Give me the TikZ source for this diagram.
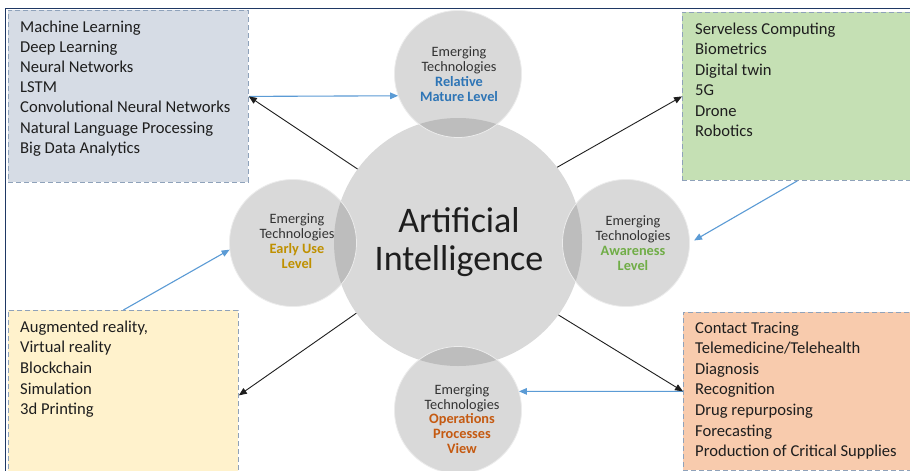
\documentclass[tikz,border=0pt]{standalone}
\usepackage{fontspec}
\setmainfont{Carlito}
\usetikzlibrary{arrows.meta}
\definecolor{cgray}{HTML}{D9D9D9}
\definecolor{clens}{HTML}{BDBDBD}
\definecolor{navy}{HTML}{1F3864}
\definecolor{tlfill}{HTML}{D6DCE5}
\definecolor{trfill}{HTML}{C5E0B4}
\definecolor{blfill}{HTML}{FFF2CC}
\definecolor{brfill}{HTML}{F8CBAD}
\definecolor{dashc}{HTML}{8FA2BA}
\definecolor{txt}{HTML}{1E1E1E}
\definecolor{ctxt}{HTML}{333333}
\definecolor{cblue}{HTML}{2E75B6}
\definecolor{cgold}{HTML}{BF9000}
\definecolor{cgreen}{HTML}{70AD47}
\definecolor{corange}{HTML}{C55A11}
\definecolor{ablue}{HTML}{5B9BD5}
\begin{document}
\begin{tikzpicture}[x=1pt,y=-1pt,
  infobox/.style={rectangle, draw=dashc, dash pattern=on 5pt off 3pt, line width=0.8pt, inner sep=0, anchor=north west},
  boxtext/.style={anchor=base west, inner sep=0, text=txt, font=\fontsize{16.6}{19}\selectfont},
  bigc/.style={circle, fill=cgray, inner sep=0, minimum size=248pt},
  smallc/.style={circle, fill=cgray, inner sep=0, minimum size=127pt},
  clabel/.style={align=center, inner sep=0, text=ctxt, font=\fontsize{14.3}{14.8}\selectfont},
  blk/.style={draw=txt, line width=0.9pt, -{Triangle[length=8pt,width=6.5pt]}},
  blu/.style={draw=ablue, line width=1.1pt, -{Triangle[length=8pt,width=6.5pt]}}]
\useasboundingbox (0,0) rectangle (910,471);
\fill[white] (0,0) rectangle (910,471);
\begin{scope}
\clip (0,0) rectangle (910,471);
% frame
\draw[navy, line width=1pt] (5,8) rectangle (930,490);
% boxes
\node[infobox, fill=tlfill, minimum width=240pt, minimum height=172pt] (tl) at (8,10) {};
\node[infobox, fill=trfill, minimum width=230pt, minimum height=168pt] (tr) at (682,12) {};
\node[infobox, fill=blfill, minimum width=230pt, minimum height=170pt] (bl) at (8,310) {};
\node[infobox, fill=brfill, minimum width=230pt, minimum height=158pt] (br) at (683,312) {};
\end{scope}
% circles
\node[bigc] (ai) at (458,242) {};
\node[smallc] (tc) at (458,74) {};
\node[smallc] (lc) at (293,243) {};
\node[smallc] (rc) at (626,243) {};
\node[smallc] (bc) at (458,410) {};
\begin{scope}
\clip (ai.center) circle[radius=124pt];
\foreach \c in {tc,lc,rc,bc} \fill[clens] (\c.center) circle[radius=63.5pt];
\end{scope}
\foreach \c in {tc,lc,rc,bc} \draw[white!85!gray, line width=0.8pt] (\c.center) circle[radius=63.5pt];
% labels
\node[font=\fontsize{36}{38}\selectfont, text=txt, align=center, inner sep=0] (ail) at (459,242) {Artificial\\Intelligence};
\node[clabel] (tcl) at (459,74) {Emerging\\Technologies\\\textcolor{cblue}{\textbf{Relative}}\\\textcolor{cblue}{\textbf{Mature Level}}};
\node[clabel] (lcl) at (297,241) {Emerging\\Technologies\\\textcolor{cgold}{\textbf{Early Use}}\\\textcolor{cgold}{\textbf{Level}}};
\node[clabel] (rcl) at (633,243) {Emerging\\Technologies\\\textcolor{cgreen}{\textbf{Awareness}}\\\textcolor{cgreen}{\textbf{Level}}};
\node[clabel] (bcl) at (462,419) {Emerging\\Technologies\\\textcolor{corange}{\textbf{Operations}}\\\textcolor{corange}{\textbf{Processes}}\\\textcolor{corange}{\textbf{View}}};
% box texts
\foreach \t [count=\i from 0] in {Machine Learning, Deep Learning, Neural Networks, LSTM, Convolutional Neural Networks, Natural Language Processing, Big Data Analytics}
  \node[boxtext] (tlt\i) at (20,{32+20.2*\i}) {\t};
\foreach \t [count=\i from 0] in {Serveless Computing, Biometrics, Digital twin, 5G, Drone, Robotics}
  \node[boxtext] (trt\i) at (695,{34+20.5*\i}) {\t};
\foreach \t [count=\i from 0] in {{Augmented reality,}, Virtual reality, Blockchain, Simulation, 3d Printing}
  \node[boxtext] (blt\i) at (20,{332+20.7*\i}) {\t};
\foreach \t [count=\i from 0] in {Contact Tracing, Telemedicine/Telehealth, Diagnosis, Recognition, Drug repurposing, Forecasting, Production of Critical Supplies}
  \node[boxtext] (brt\i) at (695,{333+20.6*\i}) {\t};
% blue arrows
\draw[blu] (tl.east) -- (tc.200);
\draw[blu, shorten >=5pt] (tr.south) -- (rc.east);
\draw[blu] (bl.north) -- (lc.186);
\draw[blu] (br.west) -- (bc.17);
% black arrows
\draw[blk] (ai.144) -- (tl.east);
\draw[blk] (ai.37) -- (tr.west);
\draw[blk] (ai.215) -- (bl.east);
\draw[blk] (ai.324) -- (br.west);
\end{tikzpicture}
\end{document}
